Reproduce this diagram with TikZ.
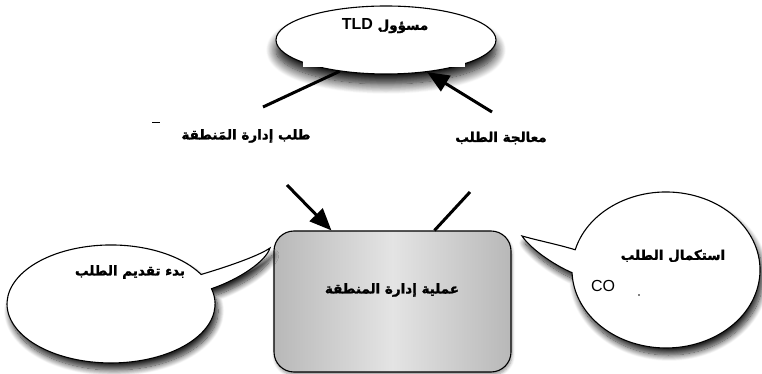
\documentclass[tikz,border=0pt]{standalone}
\usepackage{fontspec}
\setmainfont{Liberation Sans}
\newfontfamily\arabicfont[Script=Arabic,BoldFont={DejaVu Sans Bold},BoldFeatures={FakeBold=1.5}]{DejaVu Sans}
\newfontfamily\latinfont{Liberation Sans}
\usetikzlibrary{shapes.geometric,arrows.meta,shadows.blur}
\TeXXeTstate=1
\definecolor{boxgray}{HTML}{B8B8B8}
\definecolor{boxlight}{HTML}{E4E4E4}
\begin{document}
\begin{tikzpicture}[x=1pt,y=1pt,
  conn/.style={line width=3pt},
  arr/.style={line width=3pt,-{Triangle[length=22pt,width=18pt]}},
  bubble/.style={draw=black,line width=1.1pt,fill=white,
    blur shadow={shadow xshift=3pt,shadow yshift=-7pt,shadow blur radius=6pt,shadow blur steps=12,shadow opacity=85}},
  ar/.style={font=\arabicfont\bfseries\fontsize{13.5}{16}\selectfont, inner sep=0pt},
]
\useasboundingbox (0,0) rectangle (762,374);

% top ellipse
\node[ellipse, draw, line width=1.1pt, fill=white, minimum width=220pt, minimum height=68pt, inner sep=0pt,
  blur shadow={shadow xshift=0pt,shadow yshift=-10pt,shadow blur radius=10pt,shadow blur steps=14,shadow opacity=95}] (tld) at (386,334) {};
\fill[white] (303,307) rectangle (465,318);
\node[ar] (tldtext) at (385,348) {\beginR مسؤول {\latinfont\bfseries\fontsize{16}{18}\selectfont\beginL TLD\endL}\endR};

% process box
\node[draw, line width=1.1pt, rounded corners=20pt, minimum width=237pt, minimum height=141pt,
  left color=boxgray, right color=boxgray, middle color=boxlight,
  blur shadow={shadow xshift=1pt,shadow yshift=-3pt,shadow blur radius=3pt,shadow blur steps=6,shadow opacity=40}] (box) at (392.5,72.5) {};
\node[ar] (boxtext) at (392,84) {\beginR عملية إدارة المنطقة\endR};

% labels
\node[ar] (lab1) at (246,238) {\beginR طلب إدارة المَنطقة\endR};
\node[ar] (lab2) at (501,236) {\beginR معالجة الطلب\endR};
\draw[line width=0.9pt] (152,252) -- (160,252);

% connectors
\coordinate (a1) at (263,267);
\coordinate (a2) at (287,189);
\coordinate (b1) at (470,182);
\coordinate (b2) at (492,262);
\draw[conn] (tld.214) -- (a1);
\draw[arr] (a2) -- ([xshift=58pt]box.north west);
\draw[conn] ([xshift=161pt]box.north west) -- (b1);
\draw[arr] (b2) -- (tld.322);

% left bubble
\path[bubble] (211.5,85.3) arc[start angle=15, end angle=-330, x radius=104, y radius=59]
  .. controls (233,109) and (260,119) .. (270,126)
  .. controls (266,113) and (240,95) .. (211.5,85.3) -- cycle;
\node[ar] (lefttext) at (130,102) {\beginR بدء تقديم الطلب\endR};

% right bubble
\path[bubble] (575.2,124.2) arc[start angle=165, end angle=-178, x radius=94, y radius=78]
  .. controls (552,110) and (530,126) .. (522,138)
  .. controls (540,133) and (560,129) .. (575.2,124.2) -- cycle;
\node[ar] (righttext) at (673,118) {\beginR استكمال الطلب\endR};
\node[font=\latinfont\fontsize{16}{18}\selectfont, inner sep=0pt] (co) at (603,88) {CO};
\fill (639,79) circle (0.9pt);
\end{tikzpicture}
\end{document}
